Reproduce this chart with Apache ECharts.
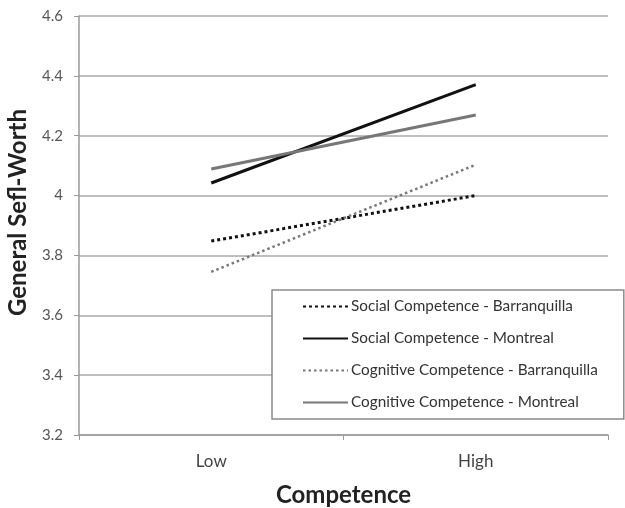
<!DOCTYPE html>
<html>
<head>
<meta charset="utf-8">
<script src="https://cdn.jsdelivr.net/npm/echarts@6/dist/echarts.min.js"></script>
<style>
  html, body { margin: 0; padding: 0; background: #fff; }
  #chart { width: 625px; height: 508px; }
</style>
</head>
<body>
<div id="chart"></div>
<script>
// categories on the x axis
const categories = ['Low', 'High']

// series values
const socialBarranquilla = [3.848, 4.0]
const socialMontreal = [4.042, 4.371]
const cognitiveBarranquilla = [3.745, 4.103]
const cognitiveMontreal = [4.089, 4.269]

const seriesNames = [
  'Social Competence - Barranquilla',
  'Social Competence - Montreal',
  'Cognitive Competence - Barranquilla',
  'Cognitive Competence - Montreal',
]

const font = 'Lato, "Open Sans", sans-serif'

const chart = echarts.init(document.getElementById('chart'))

function lineSeries(name, data, color, width, type) {
  return {
    name: name,
    type: 'line',
    data: data,
    symbol: 'none',
    color: color,
    lineStyle: { color: color, width: width, type: type, cap: 'butt' },
    animation: false,
  }
}

const option = {
  animation: false,
  backgroundColor: '#fff',
  grid: { left: 79, top: 16, right: 17, bottom: 73, containLabel: false, outerBoundsMode: 'none' },
  legend: {
    orient: 'vertical',
    left: 272,
    top: 290,
    padding: [9, 26, 9, 30],
    itemWidth: 45,
    itemHeight: 14,
    itemGap: 17,
    backgroundColor: '#fff',
    borderColor: '#8a8a8a',
    borderWidth: 1.5,
    itemStyle: { opacity: 0 },
    textStyle: { fontFamily: font, fontSize: 15.3, color: '#333', padding: [0, 0, 0, -2] },
    data: seriesNames,
  },
  xAxis: {
    type: 'category',
    data: categories,
    boundaryGap: true,
    name: 'Competence',
    nameLocation: 'middle',
    nameGap: 48,
    nameTextStyle: { fontFamily: font, fontSize: 24, fontWeight: 'bold', color: '#222' },
    axisLine: { lineStyle: { color: '#9a9a9a', width: 1.5 } },
    axisTick: { show: true, length: 5, lineStyle: { color: '#9a9a9a' } },
    axisLabel: { fontFamily: font, fontSize: 17, color: '#444', margin: 18 },
  },
  yAxis: {
    type: 'value',
    min: 3.2,
    max: 4.6,
    interval: 0.2,
    name: 'General Sefl-Worth',
    nameLocation: 'middle',
    nameGap: 49,
    nameTextStyle: {
      fontFamily: font, fontSize: 24, fontWeight: 'bold', color: '#222',
      padding: [0, 0, 0, 26],
    },
    axisLine: { show: true, lineStyle: { color: '#9a9a9a', width: 1.5 } },
    axisTick: { show: true, length: 5, lineStyle: { color: '#9a9a9a' } },
    axisLabel: {
      fontFamily: font, fontSize: 15, color: '#555', margin: 16,
      formatter: v => String(Math.round(v * 10) / 10),
    },
    splitLine: { lineStyle: { color: '#a8a8a8', width: 1.5 } },
  },
  series: [
    lineSeries(seriesNames[0], socialBarranquilla, '#111', 3, [3, 3]),
    lineSeries(seriesNames[1], socialMontreal, '#111', 3, 'solid'),
    lineSeries(seriesNames[2], cognitiveBarranquilla, '#777', 2.5, [2.5, 3]),
    lineSeries(seriesNames[3], cognitiveMontreal, '#777', 3, 'solid'),
  ],
}

chart.setOption(option)
</script>
</body>
</html>
